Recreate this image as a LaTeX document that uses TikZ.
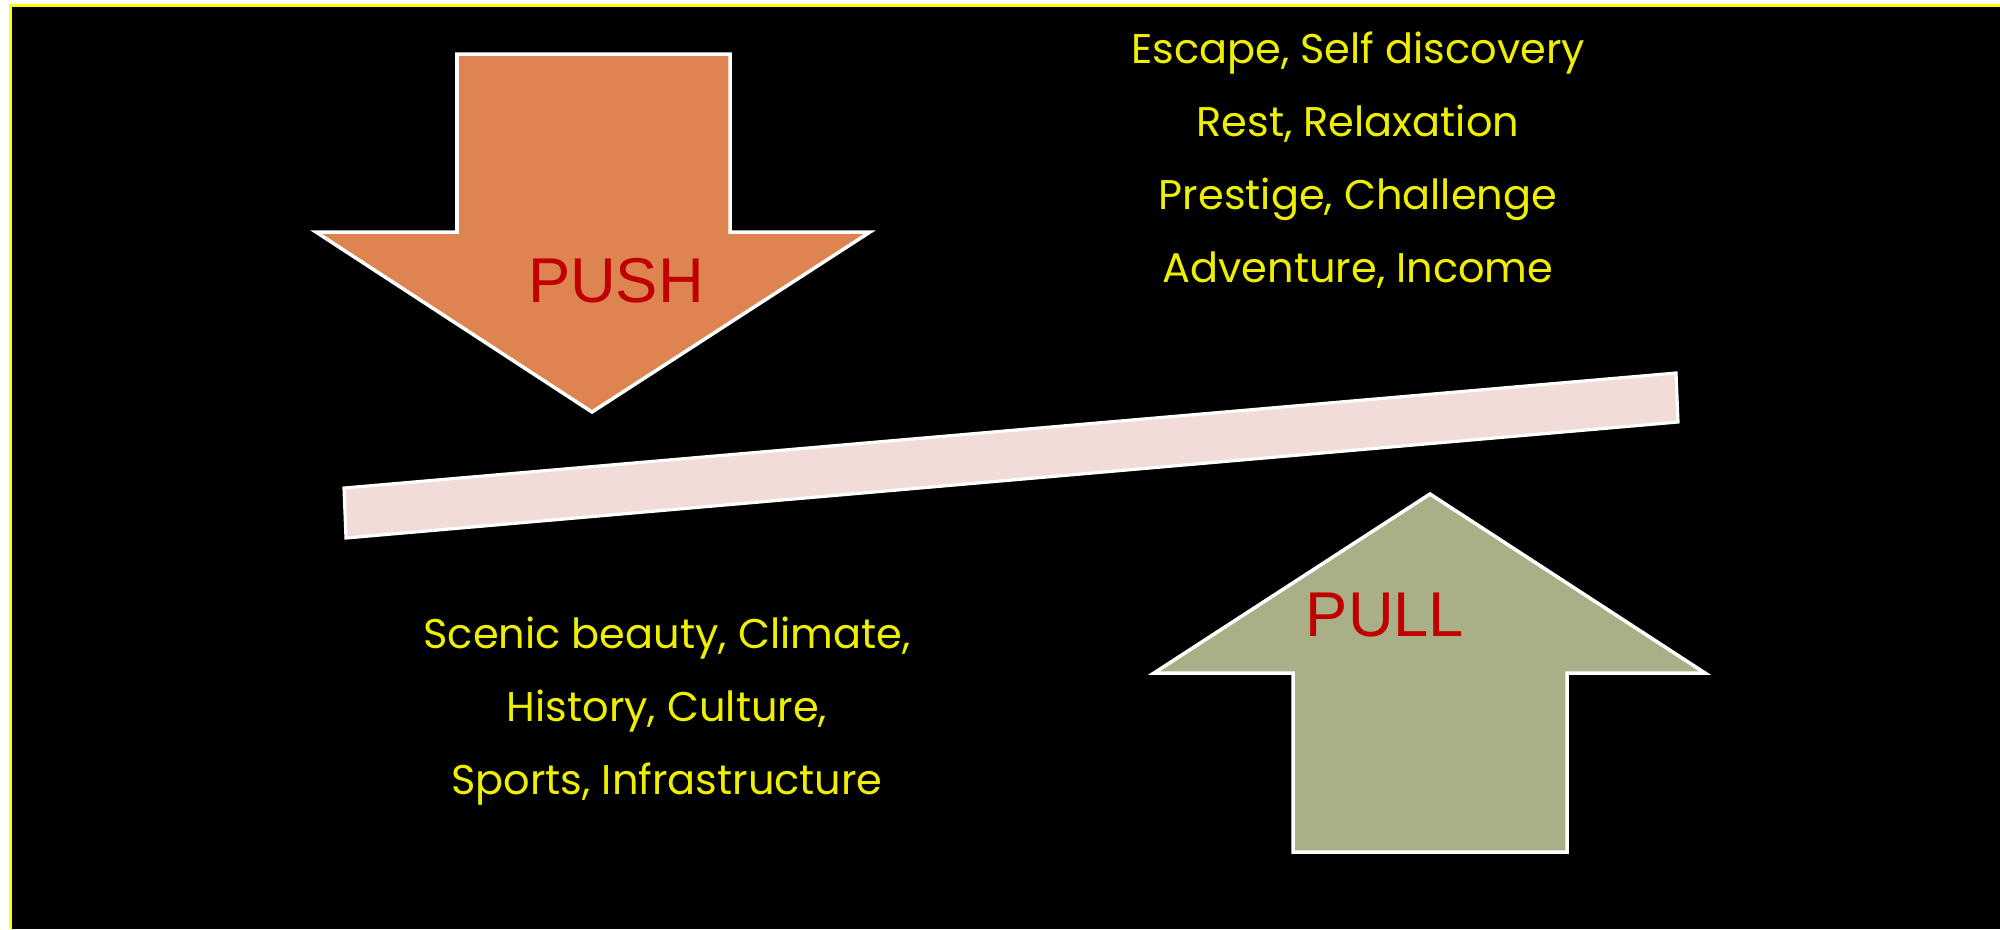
\documentclass[tikz,border=0pt]{standalone}
\usepackage{fontspec}
\setmainfont{Poppins}
\newfontfamily\labelfont{Liberation Sans}
\definecolor{pushfill}{RGB}{222,132,80}
\definecolor{pullfill}{RGB}{169,175,135}
\definecolor{beamfill}{RGB}{242,220,215}
\definecolor{textyellow}{RGB}{238,238,0}
\definecolor{labelred}{RGB}{192,0,0}
\definecolor{frameyellow}{RGB}{255,255,0}
\tikzset{
  arrowshape/.style={draw=white, line width=1pt, line join=miter},
  factors/.style={text=textyellow, align=center, font=\fontsize{11.8}{20.7}\selectfont, inner sep=0pt},
  biglabel/.style={text=labelred, font=\labelfont\fontsize{18}{20}\selectfont, inner sep=0pt}
}
\begin{document}
\begin{tikzpicture}[x=0.01cm, y=-0.01cm]
  % page and slide background
  \fill[white] (0,0) rectangle (2000,929);
  \useasboundingbox (0,0) rectangle (2000,929);
  \fill[black] (10,5) rectangle (2000,929);
  \draw[frameyellow, line width=0.7pt] (10.5,929) -- (10.5,5.5) -- (2000,5.5);

  % push arrow pointing down
  \draw[arrowshape, fill=pushfill]
    (457,54) -- (730,54) -- (730,232) -- (870,232) -- (592,412)
    -- (316,232) -- (457,232) -- cycle;
  \node[biglabel] (push) at (616,281) {PUSH};

  % tilted beam
  \draw[draw=white, line width=0.9pt, fill=beamfill]
    (344,488) -- (1676,373) -- (1678,422) -- (346,538) -- cycle;

  % pull arrow pointing up
  \draw[arrowshape, fill=pullfill]
    (1430,494) -- (1705,673) -- (1567,673) -- (1567,852) -- (1293,852)
    -- (1293,673) -- (1154,673) -- cycle;
  \node[biglabel] (pull) at (1385,615) {PULL};

  % motivating factors
  \node[factors] (pushfactors) at (1358,160)
    {Escape, Self discovery\\ Rest, Relaxation\\ Prestige, Challenge\\ Adventure, Income};
  \node[factors] (pullfactors) at (667,711)
    {Scenic beauty, Climate,\\ History, Culture,\\ Sports, Infrastructure};
\end{tikzpicture}
\end{document}
